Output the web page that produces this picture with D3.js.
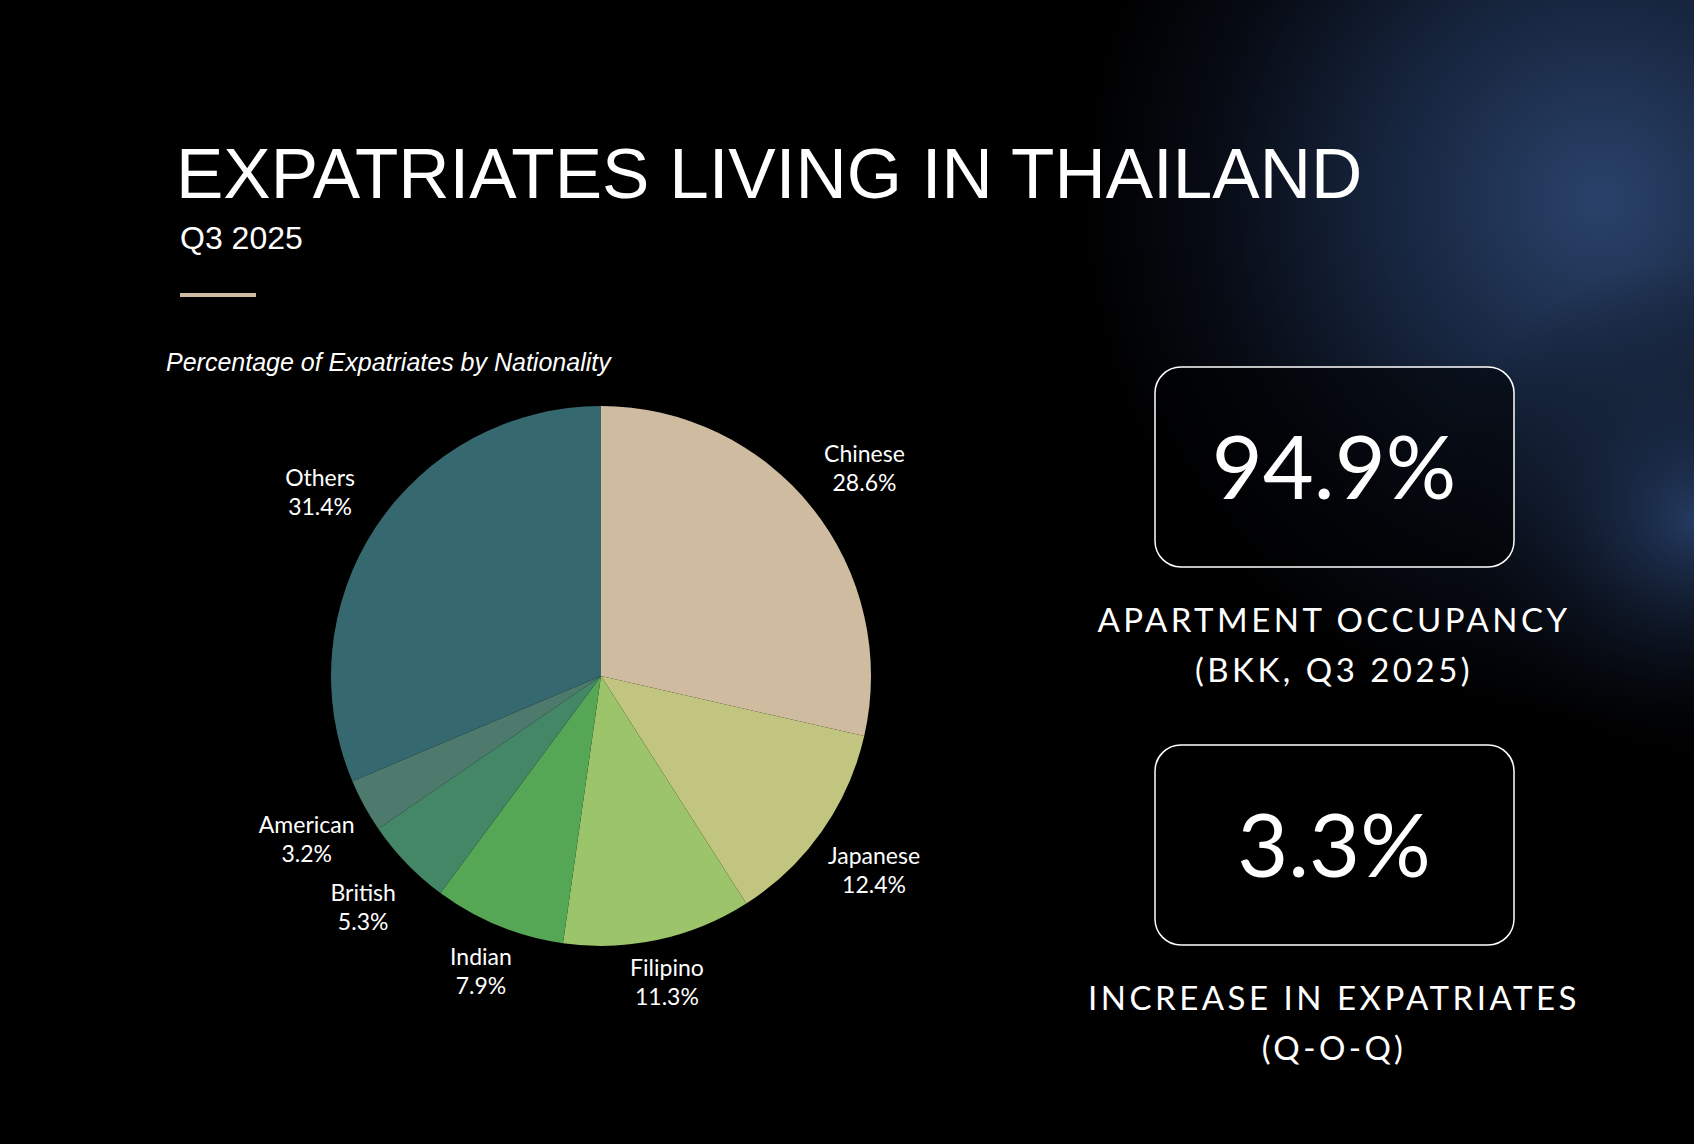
<!DOCTYPE html>
<html><head><meta charset="utf-8">
<script src="https://cdn.jsdelivr.net/npm/d3@7"></script>
<style>html,body{margin:0;padding:0;background:#000;overflow:hidden}</style>
</head><body><svg id="c" width="1694" height="1144"></svg>
<script>
const categories=["Chinese","Japanese","Filipino","Indian","British","American","Others"];
const values=[28.6,12.4,11.3,7.9,5.3,3.2,31.4];
const colors=["#cfbba0","#c2c57f","#9cc46b","#55a655","#438767","#4e7a6e","#35686f"];
const kpiValues=["94.9%","3.3%"];
const kpiLabels=[["APARTMENT OCCUPANCY","(BKK, Q3 2025)"],["INCREASE IN EXPATRIATES","(Q-O-Q)"]];

const svg=d3.select("#c");
const defs=svg.append("defs");
const g1=defs.append("radialGradient").attr("id","glow").attr("gradientUnits","userSpaceOnUse").attr("cx",1600).attr("cy",200).attr("r",520).attr("gradientTransform","rotate(25 1600 200) scale(1 1)");
g1.append("stop").attr("offset",0).attr("stop-color","#2a426a");
g1.append("stop").attr("offset",0.4).attr("stop-color","#17263f");
g1.append("stop").attr("offset",0.75).attr("stop-color","#070b14");
g1.append("stop").attr("offset",1).attr("stop-color","#000");
const g2=defs.append("radialGradient").attr("id","glow2").attr("gradientUnits","userSpaceOnUse").attr("cx",1694).attr("cy",520).attr("r",260);
g2.append("stop").attr("offset",0).attr("stop-color","#2a4470").attr("stop-opacity",0.8);
g2.append("stop").attr("offset",1).attr("stop-color","#000").attr("stop-opacity",0);
svg.append("rect").attr("width",1694).attr("height",1144).attr("fill","#000");
svg.append("rect").attr("width",1694).attr("height",1144).attr("fill","url(#glow)");
svg.append("rect").attr("width",1694).attr("height",1144).attr("fill","url(#glow2)");

const sans="'Liberation Sans', Arial, sans-serif";
const pop="Lato, 'Open Sans', sans-serif";
svg.append("text").attr("x",176).attr("y",198).attr("fill","#fff").attr("font-family",sans).attr("font-size",71).text("EXPATRIATES LIVING IN THAILAND");
svg.append("text").attr("x",180).attr("y",249).attr("fill","#fff").attr("font-family",sans).attr("font-size",32).text("Q3 2025");
svg.append("rect").attr("x",180).attr("y",293).attr("width",76).attr("height",4).attr("fill","#cfbba0");
svg.append("text").attr("x",166).attr("y",371).attr("fill","#fff").attr("font-family",sans).attr("font-style","italic").attr("font-size",25).text("Percentage of Expatriates by Nationality");

const cx=601,cy=676,R=270;
const pie=d3.pie().sort(null).value(d=>d)(values);
const arc=d3.arc().innerRadius(0).outerRadius(R);
const pg=svg.append("g").attr("transform",`translate(${cx},${cy})`);
pg.selectAll("path").data(pie).join("path").attr("d",arc).attr("fill",(d,i)=>colors[i]);
pie.forEach((d,i)=>{
  const mid=(d.startAngle+d.endAngle)/2;
  const r=337-28*Math.pow(Math.max(0,-Math.cos(mid)),4);
  const [x,y]=d3.arc().innerRadius(r).outerRadius(r).centroid(d);
  const t=pg.append("text").attr("x",x).attr("y",y-4).attr("text-anchor","middle").attr("fill","#fff").attr("font-family",pop).attr("font-size",23);
  t.append("tspan").attr("x",x).text(categories[i]);
  t.append("tspan").attr("x",x).attr("dy",29).text(values[i]+"%");
});

const boxY=[367,745];
kpiValues.forEach((v,i)=>{
  const y=boxY[i];
  svg.append("rect").attr("x",1155).attr("y",y).attr("width",359).attr("height",200).attr("rx",26).attr("fill","rgba(0,0,0,0.55)").attr("stroke","#fff").attr("stroke-width",1.5);
  svg.append("text").attr("x",1334).attr("y",y+132).attr("text-anchor","middle").attr("fill","#fff").attr("font-family",pop).attr("font-weight",400).attr("font-size",88).text(v);
  kpiLabels[i].forEach((l,j)=>{
    svg.append("text").attr("x",1334).attr("y",y+265+j*50).attr("text-anchor","middle").attr("fill","#fff").attr("font-family",pop).attr("font-size",33).attr("letter-spacing",3.5).text(l);
  });
});
</script></body></html>
